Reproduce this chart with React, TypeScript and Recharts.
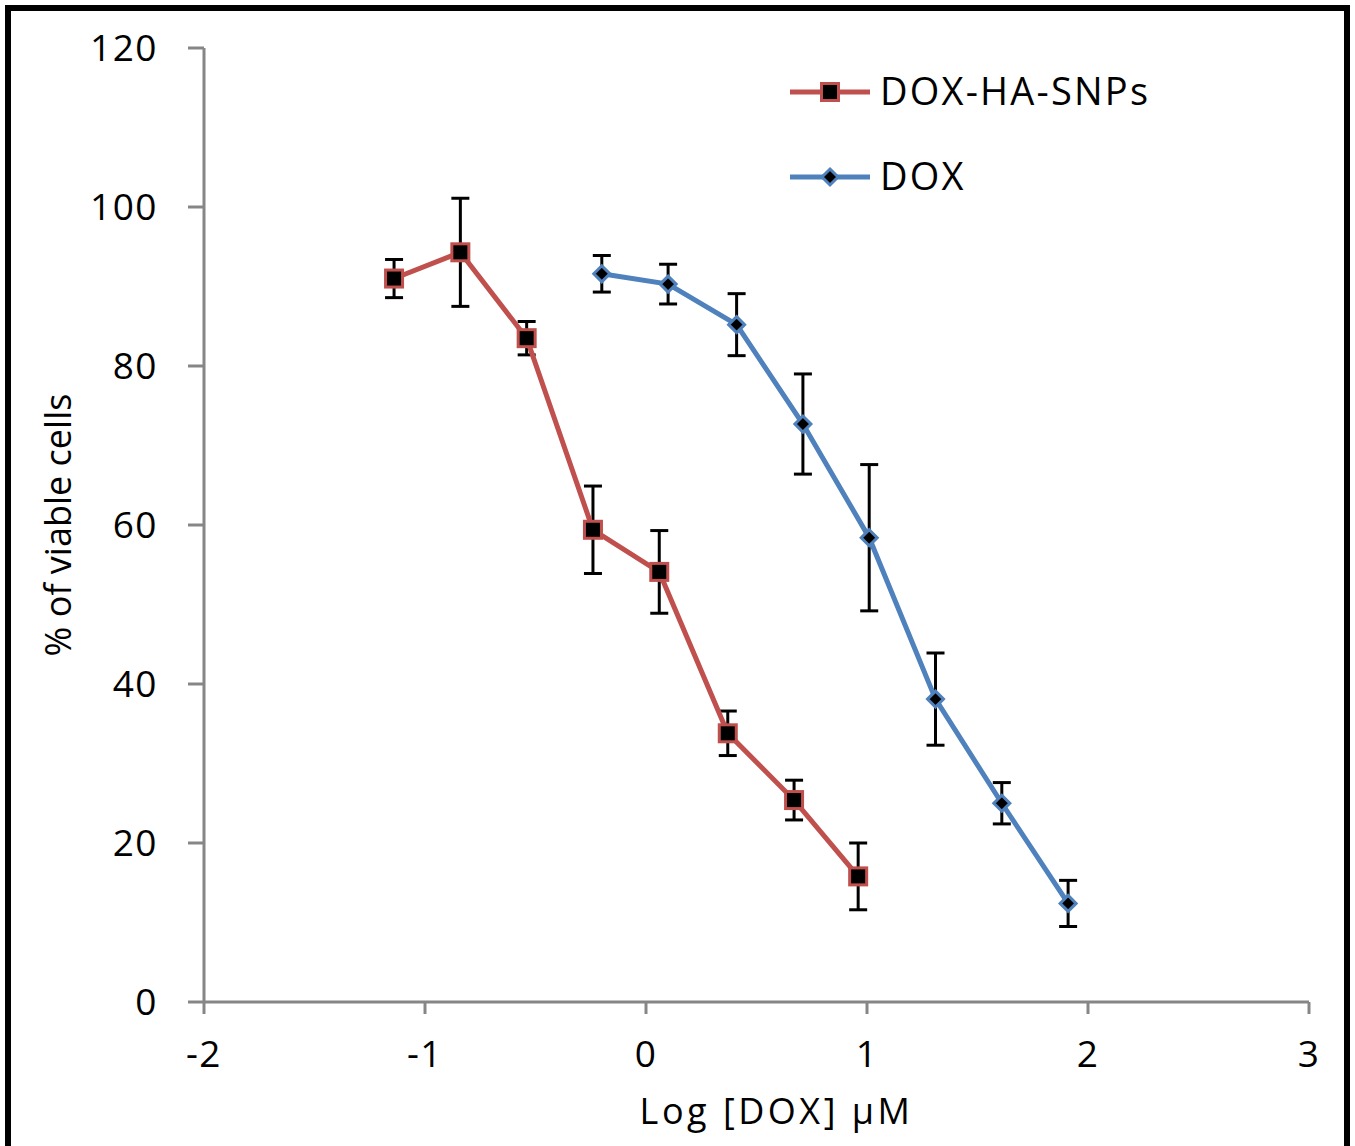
import React from 'react';
import { ComposedChart, Line, XAxis, YAxis, ErrorBar } from 'recharts';

const FONT = '"Open Sans", sans-serif';

// DOX-HA-SNPs
const snpLogDose = [-1.14, -0.84, -0.54, -0.24, 0.06, 0.37, 0.67, 0.96];
const snpViable = [91.0, 94.3, 83.5, 59.4, 54.1, 33.8, 25.4, 15.8];
const snpErr = [2.4, 6.8, 2.1, 5.5, 5.2, 2.8, 2.5, 4.2];

// free DOX
const doxLogDose = [-0.2, 0.1, 0.41, 0.71, 1.01, 1.31, 1.61, 1.91];
const doxViable = [91.6, 90.3, 85.2, 72.7, 58.4, 38.1, 25.0, 12.4];
const doxErr = [2.3, 2.5, 3.9, 6.3, 9.2, 5.8, 2.6, 2.9];

const xTicks = [-2, -1, 0, 1, 2, 3];
const yTicks = [0, 20, 40, 60, 80, 100, 120];

const RED = '#C0504D';
const BLUE = '#4F81BD';
const AXIS = '#868686';

const snpData = snpLogDose.map((x, i) => ({ x, y: snpViable[i], err: snpErr[i] }));
const doxData = doxLogDose.map((x, i) => ({ x, y: doxViable[i], err: doxErr[i] }));

const SquareDot = (props: any) => {
  const { cx, cy, index } = props;
  if (cx == null || cy == null) return null;
  return <rect key={index} x={cx - 8.5} y={cy - 8.5} width={17} height={17} fill="#000" stroke={RED} strokeWidth={3} />;
};

const DiamondDot = (props: any) => {
  const { cx, cy, index } = props;
  if (cx == null || cy == null) return null;
  const r = 8;
  return (
    <polygon
      key={index}
      points={`${cx},${cy - r} ${cx + r},${cy} ${cx},${cy + r} ${cx - r},${cy}`}
      fill="#000"
      stroke={BLUE}
      strokeWidth={3}
    />
  );
};

const LegendBox = () => (
  <svg width={400} height={140} style={{ position: 'absolute', left: 790, top: 60, overflow: 'visible' }}>
    <line x1={0} y1={32} x2={80} y2={32} stroke={RED} strokeWidth={5} />
    <rect x={31.5} y={23.5} width={17} height={17} fill="#000" stroke={RED} strokeWidth={3} />
    <text x={90} y={45} fontSize={38} letterSpacing={2.2} fontFamily={FONT} fill="#000">DOX-HA-SNPs</text>
    <line x1={0} y1={117} x2={80} y2={117} stroke={BLUE} strokeWidth={5} />
    <polygon points="40,109 48,117 40,125 32,117" fill="#000" stroke={BLUE} strokeWidth={3} />
    <text x={90} y={130} fontSize={38} letterSpacing={2.2} fontFamily={FONT} fill="#000">DOX</text>
  </svg>
);

export default function App() {
  return (
    <div style={{ position: 'absolute', left: 0, top: 0, width: 1355, height: 1146, background: '#fff', overflow: 'hidden' }}>
      <div
        style={{
          position: 'absolute', left: 5, top: 5, width: 1333, height: 1160,
          borderLeft: '6px solid #000', borderTop: '6px solid #000', borderRight: '6px solid #000',
        }}
      />
      <ComposedChart width={1355} height={1146} margin={{ top: 48, right: 46, bottom: 0, left: 0 }}>
        <XAxis
          type="number"
          dataKey="x"
          domain={[-2, 3]}
          ticks={xTicks}
          allowDataOverflow
          stroke={AXIS}
          strokeWidth={3}
          tickSize={12}
          tickMargin={27}
          height={144}
          tick={{ fill: '#000', fontSize: 37, fontFamily: FONT, letterSpacing: 1.5 }}
          label={{ value: 'Log [DOX] \u03bcM', position: 'insideBottom', offset: 22, dx: 20, fill: '#000', fontSize: 36, fontFamily: FONT, letterSpacing: 3.5 }}
        />
        <YAxis
          type="number"
          domain={[0, 120]}
          ticks={yTicks}
          stroke={AXIS}
          strokeWidth={3}
          tickSize={16}
          tickMargin={30}
          width={204}
          tick={{ fill: '#000', fontSize: 37, fontFamily: FONT, letterSpacing: 1.5 }}
          label={{ value: '% of viable cells', angle: -90, position: 'insideLeft', offset: 58, fill: '#000', fontSize: 36, fontFamily: FONT, style: { textAnchor: 'middle' } }}
        />
        <Line
          data={snpData}
          dataKey="y"
          name="DOX-HA-SNPs"
          stroke={RED}
          strokeWidth={5}
          dot={<SquareDot />}
          activeDot={false}
          isAnimationActive={false}
        >
          <ErrorBar dataKey="err" direction="y" width={9} stroke="#000" strokeWidth={3} isAnimationActive={false} />
        </Line>
        <Line
          data={doxData}
          dataKey="y"
          name="DOX"
          stroke={BLUE}
          strokeWidth={5}
          dot={<DiamondDot />}
          activeDot={false}
          isAnimationActive={false}
        >
          <ErrorBar dataKey="err" direction="y" width={9} stroke="#000" strokeWidth={3} isAnimationActive={false} />
        </Line>
      </ComposedChart>
      <LegendBox />
    </div>
  );
}
